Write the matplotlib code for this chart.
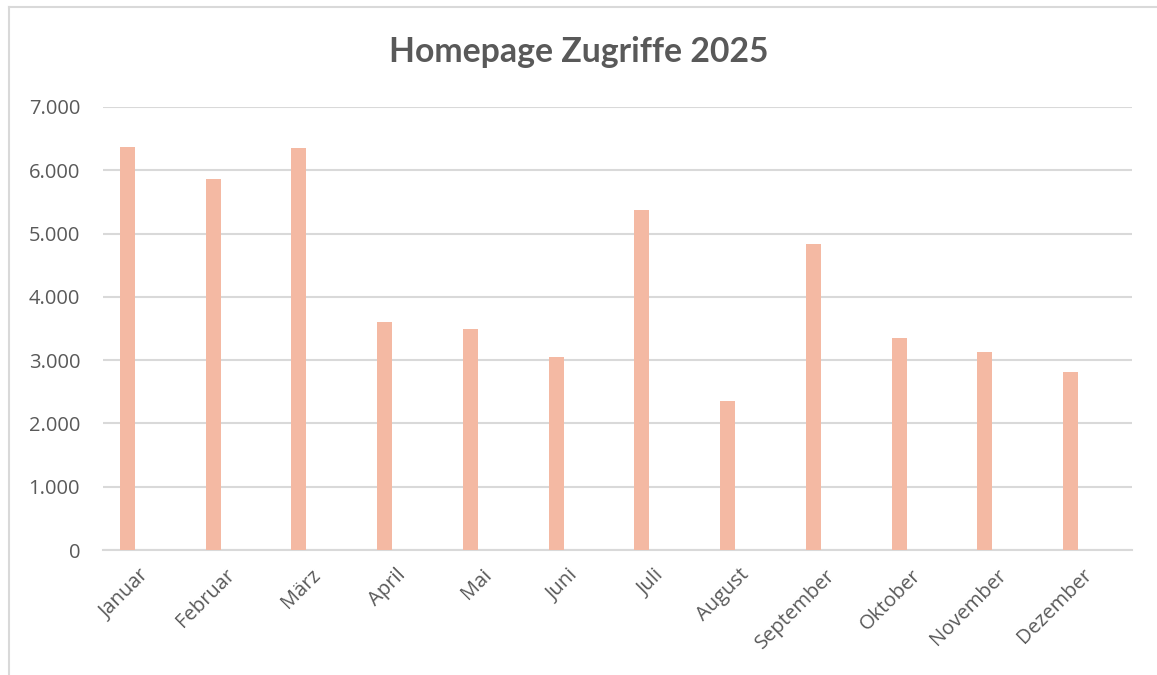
import matplotlib.pyplot as plt
import numpy as np
from matplotlib.lines import Line2D
from matplotlib.ticker import FuncFormatter

monate = ["Januar", "Februar", "März", "April", "Mai", "Juni", "Juli",
          "August", "September", "Oktober", "November", "Dezember"]
zugriffe = [6370, 5860, 6350, 3600, 3490, 3050, 5370, 2350, 4830, 3350, 3130, 2810]
y_ticks = [0, 1000, 2000, 3000, 4000, 5000, 6000, 7000]

text_color = "#595959"
grid_color = "#D9D9D9"
bar_color = "#F4B9A3"

plt.rcParams["font.family"] = ["Open Sans", "DejaVu Sans"]

fig = plt.figure(figsize=(11.57, 6.75), dpi=100)
ax = fig.add_axes([103 / 1157, 1 - 550 / 675, (1132 - 103) / 1157, (550 - 107) / 675])

x = np.arange(len(monate))
ax.bar(x - 0.215, zugriffe, width=0.175, color=bar_color, zorder=3)

ax.set_xlim(-0.5, len(monate) - 0.5)
ax.set_ylim(0, 7000)
ax.set_yticks(y_ticks)
ax.yaxis.set_major_formatter(FuncFormatter(lambda v, p: f"{v:,.0f}".replace(",", ".")))
ax.grid(axis="y", color=grid_color, linewidth=1.5, zorder=0)
ax.set_axisbelow(True)

for s in ["top", "right", "left"]:
    ax.spines[s].set_visible(False)
ax.spines["bottom"].set_color(grid_color)
ax.spines["bottom"].set_linewidth(1.5)

ax.tick_params(axis="both", length=0, colors=text_color, labelsize=14.5)
ax.tick_params(axis="y", pad=16.5)
ax.set_xticks(x)
ax.set_xticklabels(monate, rotation=45, ha="right", va="center",
                   rotation_mode="anchor", color=text_color)
ax.tick_params(axis="x", pad=16)

fig.text(0.5, 1 - 52 / 675, "Homepage Zugriffe 2025", ha="center", va="center",
         fontsize=24.3, fontweight="bold", fontfamily="Lato", color=text_color)

# chart area frame (only top and left edge visible)
fig.add_artist(Line2D([9 / 1157, 9 / 1157], [0, 1 - 7 / 675], color=grid_color, linewidth=1.5))
fig.add_artist(Line2D([9 / 1157, 1], [1 - 7 / 675, 1 - 7 / 675], color=grid_color, linewidth=1.5))

fig.savefig("out.png", dpi=100)
